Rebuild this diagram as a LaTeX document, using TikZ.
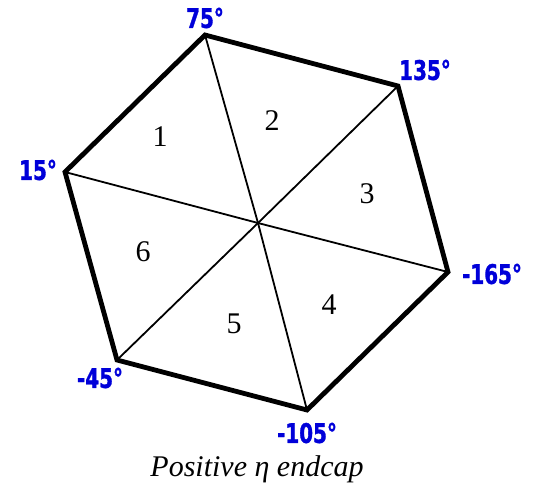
\documentclass[tikz,border=0pt]{standalone}
\usepackage{fontspec}
\setmainfont{Liberation Serif}
\newfontfamily\anglefont{DejaVu Sans Condensed}[FakeStretch=0.82, FakeBold=1.2]
\usepackage{tikz}
\usetikzlibrary{positioning, calc}

\begin{document}
\begin{tikzpicture}[
    x=1pt, y=-1pt,
    edge/.style={line width=4.8pt, line join=miter},
    spoke/.style={line width=1.8pt},
    angle/.style={font=\anglefont\bfseries\fontsize{27}{29}\selectfont, text=blue!85!black, inner sep=0pt},
    sector/.style={font=\fontsize{30}{32}\selectfont, inner sep=0pt}
]
    \useasboundingbox (0,0) rectangle (539,490);

    % Hexagon corners
    \coordinate (c75)   at (205,35);
    \coordinate (c135)  at (398,86);
    \coordinate (cm165) at (448,272);
    \coordinate (cm105) at (307,410);
    \coordinate (cm45)  at (117,360);
    \coordinate (c15)   at (65,172);
    \coordinate (mid)   at (258,223);

    % Spokes
    \draw[spoke] (c75) -- (mid) -- (cm105);
    \draw[spoke] (c135) -- (mid) -- (cm45);
    \draw[spoke] (c15) -- (mid) -- (cm165);

    % Outline
    \draw[edge] (c75) -- (c135) -- (cm165) -- (cm105) -- (cm45) -- (c15) -- cycle;

    % Corner angles
    \node[angle] (l75)   at (205,18)  {75°};
    \node[angle] (l135)  at (425,70)  {135°};
    \node[angle] (lm165) at (492,274) {-165°};
    \node[angle] (lm105) at (307,433) {-105°};
    \node[angle] (lm45)  at (100,378) {-45°};
    \node[angle] (l15)   at (38,170)  {15°};

    % Sector numbers
    \node[sector] (s1) at (160,137) {1};
    \node[sector] (s2) at (272,121) {2};
    \node[sector] (s3) at (367,194) {3};
    \node[sector] (s4) at (329,305) {4};
    \node[sector] (s5) at (234,324) {5};
    \node[sector] (s6) at (143,252) {6};

    % Caption
    \node[font=\itshape\fontsize{30}{32}\selectfont] (cap) at (257,469) {Positive η endcap};
\end{tikzpicture}
\end{document}
